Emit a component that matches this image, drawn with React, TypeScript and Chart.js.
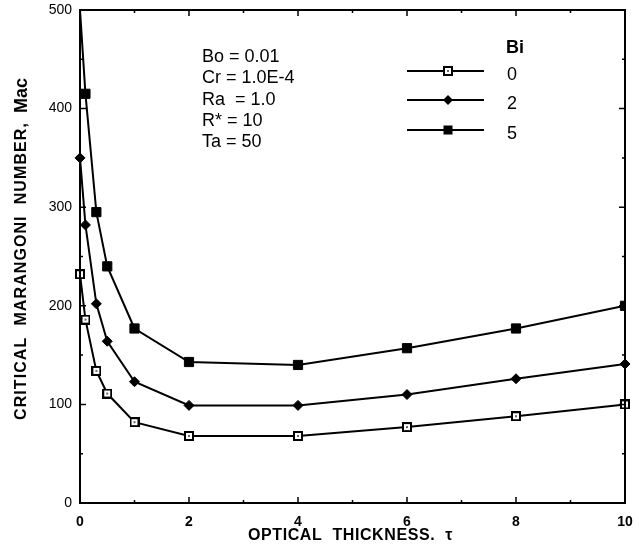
import React, { useEffect, useRef } from 'react';
import { Chart, registerables } from 'chart.js';
Chart.register(...registerables);

const xTau = [0, 0.1, 0.3, 0.5, 1, 2, 4, 6, 8, 10];
const bi0 = [232, 186, 134, 111, 82, 68, 68, 77, 88, 100];
const bi2 = [350, 282, 202, 164, 123, 99, 99, 110, 126, 141];
const bi5 = [500, 415, 295, 240, 177, 143, 140, 157, 177, 200];
const seriesLabels = ['0', '2', '5'];
const legendTitle = 'Bi';
const infoLines = ['Bo = 0.01', 'Cr = 1.0E-4', 'Ra  = 1.0', 'R* = 10', 'Ta = 50'];
const xTitle = 'OPTICAL  THICKNESS.  \u03C4';
const yTitleMain = 'CRITICAL  MARANGONI  NUMBER,';
const yTitleSym = 'Mac';

const FONT = '"Liberation Sans", Arial, Helvetica, sans-serif';

function openSquare(): HTMLCanvasElement {
  const c = document.createElement('canvas');
  c.width = 10; c.height = 10;
  const g = c.getContext('2d')!;
  g.fillStyle = '#000';
  g.fillRect(0, 0, 10, 10);
  g.fillStyle = '#fff';
  g.fillRect(2, 2, 6, 6);
  g.fillStyle = '#666';
  g.fillRect(4, 4, 2, 2);
  return c;
}

const pts = (ys: number[]) => xTau.map((x, i) => ({ x, y: ys[i] }));

function spacedText(ctx: any, text: string, x: number, y: number, target: number) {
  ctx.letterSpacing = '0px';
  const w = ctx.measureText(text).width;
  const sp = Math.max(0, (target - w) / text.length);
  ctx.letterSpacing = sp + 'px';
  ctx.fillText(text, x, y);
  ctx.letterSpacing = '0px';
}

export default function App() {
  const ref = useRef<HTMLCanvasElement>(null);
  useEffect(() => {
    const sq = openSquare();
    const styles: any[] = [
      { pointStyle: sq, pointRadius: 5, clip: false },
      { pointStyle: 'rectRot', pointRadius: 5, pointBackgroundColor: '#000', clip: false },
      { pointStyle: 'rect', pointRadius: xTau.map((_, i) => (i === 0 ? 0 : 6.5)), pointBackgroundColor: '#000' },
    ];
    const frame = {
      id: 'frame',
      afterDatasetsDraw(chart: any) {
        const { ctx, chartArea: a, scales } = chart;
        const xs = scales.x, ys = scales.y;
        ctx.save();
        ctx.strokeStyle = '#000';
        ctx.lineWidth = 2;
        ctx.strokeRect(a.left, a.top, a.right - a.left, a.bottom - a.top);
        ctx.lineWidth = 1.5;
        ctx.beginPath();
        for (let v = 1; v < 10; v++) {
          const px = xs.getPixelForValue(v);
          const L = v % 2 === 0 ? 6 : 3;
          ctx.moveTo(px, a.bottom); ctx.lineTo(px, a.bottom - L);
          ctx.moveTo(px, a.top); ctx.lineTo(px, a.top + L);
        }
        for (let v = 50; v < 500; v += 50) {
          const py = ys.getPixelForValue(v);
          const L = v % 100 === 0 ? 6 : 3;
          ctx.moveTo(a.left, py); ctx.lineTo(a.left + L, py);
          ctx.moveTo(a.right, py); ctx.lineTo(a.right - L, py);
        }
        ctx.stroke();

        ctx.fillStyle = '#000';
        ctx.textBaseline = 'middle';

        // axis titles
        ctx.textAlign = 'left';
        ctx.font = `bold 16px ${FONT}`;
        spacedText(ctx, xTitle, 248, 536, 205);

        ctx.save();
        ctx.translate(22, 420);
        ctx.rotate(-Math.PI / 2);
        ctx.font = `bold 16px ${FONT}`;
        spacedText(ctx, yTitleMain, 0, 0, 298);
        ctx.font = `bold 18px ${FONT}`;
        spacedText(ctx, yTitleSym, 307, 0, 32);
        ctx.restore();

        // info text
        ctx.font = `18px ${FONT}`;
        ctx.textAlign = 'left';
        const iy = [57, 78.5, 100, 121, 142];
        infoLines.forEach((t, i) => spacedText(ctx, t, 202, iy[i], 0));

        // legend
        ctx.font = `bold 18px ${FONT}`;
        ctx.fillText(legendTitle, 506, 48);
        const ly = [71, 100, 130];
        seriesLabels.forEach((t, i) => {
          ctx.strokeStyle = '#000';
          ctx.lineWidth = 2;
          ctx.beginPath();
          ctx.moveTo(407, ly[i]); ctx.lineTo(484, ly[i]);
          ctx.stroke();
          if (i === 0) {
            ctx.drawImage(sq, 443, ly[i] - 5);
          } else if (i === 1) {
            ctx.beginPath();
            ctx.moveTo(448, ly[i] - 5); ctx.lineTo(453, ly[i]);
            ctx.lineTo(448, ly[i] + 5); ctx.lineTo(443, ly[i]);
            ctx.closePath(); ctx.fill();
          } else {
            ctx.fillRect(443.5, ly[i] - 4.5, 9, 9);
          }
          ctx.font = `18px ${FONT}`;
          ctx.fillText(t, 507, ly[i] + 4);
        });
        ctx.restore();
      },
    };
    const chart = new Chart(ref.current!, {
      type: 'line',
      data: {
        datasets: [bi0, bi2, bi5].map((d, i) => ({
          label: seriesLabels[i],
          data: pts(d),
          borderColor: '#000',
          borderWidth: 2,
          tension: 0,
          pointBorderColor: '#000',
          pointBorderWidth: 1,
          ...styles[i],
        })),
      },
      options: {
        responsive: false,
        animation: false,
        layout: { padding: { top: 10, right: 14, left: 0, bottom: 0 } },
        plugins: { legend: { display: false }, tooltip: { enabled: false } },
        scales: {
          x: {
            type: 'linear', min: 0, max: 10,
            ticks: { stepSize: 2, color: '#000', font: { family: FONT, size: 14, weight: 'bold' }, padding: 11, maxRotation: 0 },
            grid: { display: false, drawTicks: false },
            border: { display: false },
            afterFit: (s: any) => { s.height = 47; s.paddingLeft = 0; s.paddingRight = 0; },
          },
          y: {
            type: 'linear', min: 0, max: 500,
            ticks: { stepSize: 100, color: '#000', font: { family: FONT, size: 14 }, padding: 8 },
            grid: { display: false, drawTicks: false },
            border: { display: false },
            afterFit: (s: any) => { s.width = 80; s.paddingTop = 0; s.paddingBottom = 0; },
          },
        },
      },
      plugins: [frame],
    });
    return () => chart.destroy();
  }, []);
  return (
    <div style={{ position: 'absolute', left: 0, top: 0, width: 639, height: 550, background: '#fff' }}>
      <canvas ref={ref} width={639} height={550} />
    </div>
  );
}
